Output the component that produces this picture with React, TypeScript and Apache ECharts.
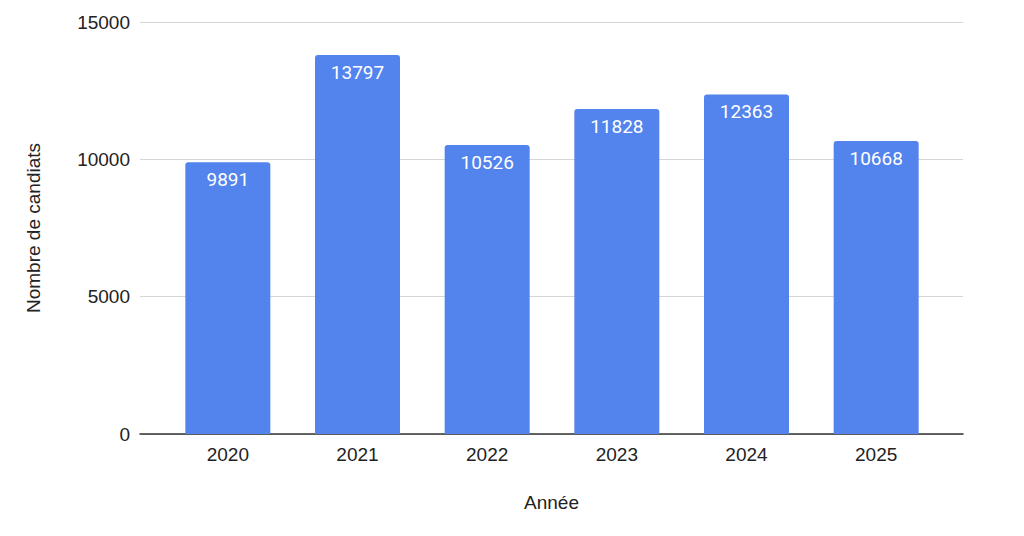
import React, { useEffect, useRef } from 'react';
import * as echarts from 'echarts';

// 数据
const years = ['2020', '2021', '2022', '2023', '2024', '2025'];
const candidats = [9891, 13797, 10526, 11828, 12363, 10668];
const yTicks = { min: 0, max: 15000, interval: 5000 };

const AXIS_FONT = '"Liberation Sans", Arial, sans-serif';
const LABEL_FONT = 'Roboto, "Liberation Sans", sans-serif';

export default function App() {
  const chartRef = useRef<HTMLDivElement>(null);

  useEffect(() => {
    document.body.style.margin = '0';
    if (!chartRef.current) return;
    const chart = echarts.init(chartRef.current, undefined, { renderer: 'svg' });

    const option = {
      animation: false,
      backgroundColor: '#fff',
      grid: [
        // grille large : lignes horizontales + ligne d'axe
        { left: 140, right: 61, top: 22, bottom: 102 },
        // grille étroite : barres
        { left: 163, right: 83, top: 22, bottom: 102 }
      ],
      xAxis: [
        {
          gridIndex: 0,
          type: 'category',
          data: [''],
          axisLine: { show: true, lineStyle: { color: '#333', width: 1.5 } },
          axisTick: { show: false },
          axisLabel: { show: false },
          name: 'Année',
          nameLocation: 'middle',
          nameGap: 59,
          nameTextStyle: { fontFamily: AXIS_FONT, fontSize: 19, color: '#222' }
        },
        {
          gridIndex: 1,
          type: 'category',
          data: years,
          axisLine: { show: false },
          axisTick: { show: false },
          axisLabel: { fontFamily: AXIS_FONT, fontSize: 19, color: '#222', margin: 11 }
        }
      ],
      yAxis: [
        {
          gridIndex: 0,
          type: 'value',
          ...yTicks,
          axisLine: { show: false },
          axisTick: { show: false },
          axisLabel: {
            fontFamily: AXIS_FONT,
            fontSize: 19,
            color: '#222',
            margin: 10,
            formatter: (v: number) => String(v)
          },
          splitLine: { lineStyle: { color: '#d6d6d6', width: 1.2 } },
          name: 'Nombre de candiats',
          nameLocation: 'middle',
          nameRotate: 90,
          nameGap: 97,
          nameTextStyle: { fontFamily: AXIS_FONT, fontSize: 19, color: '#222' }
        },
        {
          gridIndex: 1,
          type: 'value',
          ...yTicks,
          show: false,
          splitLine: { show: false }
        }
      ],
      series: [
        {
          type: 'bar',
          xAxisIndex: 1,
          yAxisIndex: 1,
          data: candidats,
          barWidth: 85,
          itemStyle: { color: '#5383EC', borderRadius: [3, 3, 0, 0] },
          label: {
            show: true,
            position: 'insideTop',
            distance: 8,
            color: '#fff',
            fontFamily: LABEL_FONT,
            fontSize: 19
          }
        }
      ]
    };
    chart.setOption(option);

    return () => {
      chart.dispose();
    };
  }, []);

  return <div ref={chartRef} style={{ width: 1024, height: 536 }} />;
}
